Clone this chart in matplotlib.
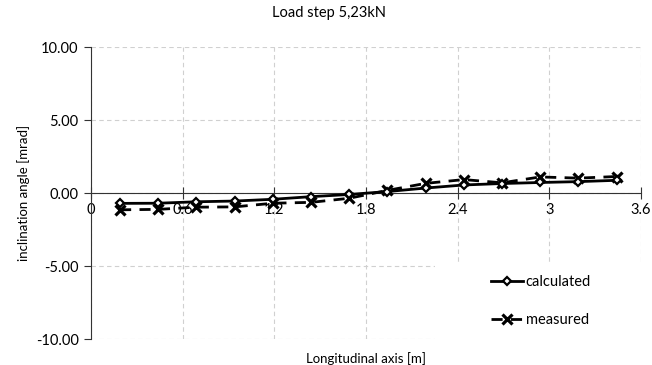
import numpy as np
import matplotlib.pyplot as plt
from matplotlib.patches import Rectangle

# values
x_pos = [0.19, 0.44, 0.69, 0.94, 1.19, 1.44, 1.69, 1.94, 2.19, 2.44, 2.69, 2.94, 3.19, 3.44]
calculated = [-0.71, -0.70, -0.60, -0.55, -0.43, -0.25, -0.10, 0.10, 0.34, 0.55, 0.65, 0.72, 0.78, 0.87]
measured = [-1.15, -1.12, -0.97, -0.95, -0.70, -0.64, -0.36, 0.18, 0.66, 0.92, 0.70, 1.10, 1.02, 1.13]
x_ticks = [0, 0.6, 1.2, 1.8, 2.4, 3.0, 3.6]
x_tick_labels = ['0', '0.6', '1.2', '1.8', '2.4', '3', '3.6']
y_ticks = [-10, -5, 0, 5, 10]

plt.rcParams['font.family'] = ['Lato', 'DejaVu Sans']
plt.rcParams['font.size'] = 10

fig = plt.figure(figsize=(6.52, 3.65), dpi=100)
ax = fig.add_axes([0.1396, 0.0712, 0.8436, 0.8])

ax.plot(x_pos, calculated, color='black', lw=2, marker='D', ms=4.5,
        mfc='white', mec='black', mew=1.6, label='calculated', zorder=4)
ax.plot(x_pos, measured, color='black', lw=2, ls=(0, (4, 3)), marker='x', ms=7,
        mew=2.3, label='measured', zorder=3)

ax.set_xlim(0, 3.6)
ax.set_ylim(-10, 10)
ax.set_xticks(x_ticks)
ax.set_xticklabels(x_tick_labels)
ax.set_yticks(y_ticks)
ax.set_yticklabels(['{:.2f}'.format(v) for v in y_ticks])

ax.spines['top'].set_visible(False)
ax.spines['right'].set_visible(False)
ax.spines['bottom'].set_position(('data', 0))
ax.spines['left'].set_color('#333333')
ax.spines['bottom'].set_color('#333333')
ax.tick_params(axis='x', direction='inout', length=8, pad=3, colors='#333333', labelsize=10.5)
ax.tick_params(axis='y', direction='out', length=5, pad=4, colors='#333333', labelsize=10.5)
for lab in ax.get_xticklabels() + ax.get_yticklabels():
    lab.set_color('black')

ax.grid(True, ls=(0, (4, 3)), color='#d0d0d0', lw=0.8)
ax.set_axisbelow(True)

# white legend area hiding the grid, as in the original
ax.add_patch(Rectangle((0.625, 0.0), 0.375, 0.26, transform=ax.transAxes,
                       facecolor='white', edgecolor='none', zorder=1.5))

fig.text(0.505, 0.965, 'Load step 5,23kN', ha='center', va='center', fontsize=10.5)
ax.set_ylabel('inclination angle [mrad]', fontsize=9.5, labelpad=4)
ax.set_xlabel('Longitudinal axis [m]', fontsize=9.5)
ax.xaxis.set_label_coords(0.5, -0.045)

leg = ax.legend(loc='center', bbox_to_anchor=(0.63, 0.0, 0.375, 0.26),
                bbox_transform=ax.transAxes, frameon=False,
                handlelength=2.2, handletextpad=0.2, labelspacing=1.6,
                borderpad=0.6, fontsize=10.5)

fig.savefig('out.png', dpi=100)
